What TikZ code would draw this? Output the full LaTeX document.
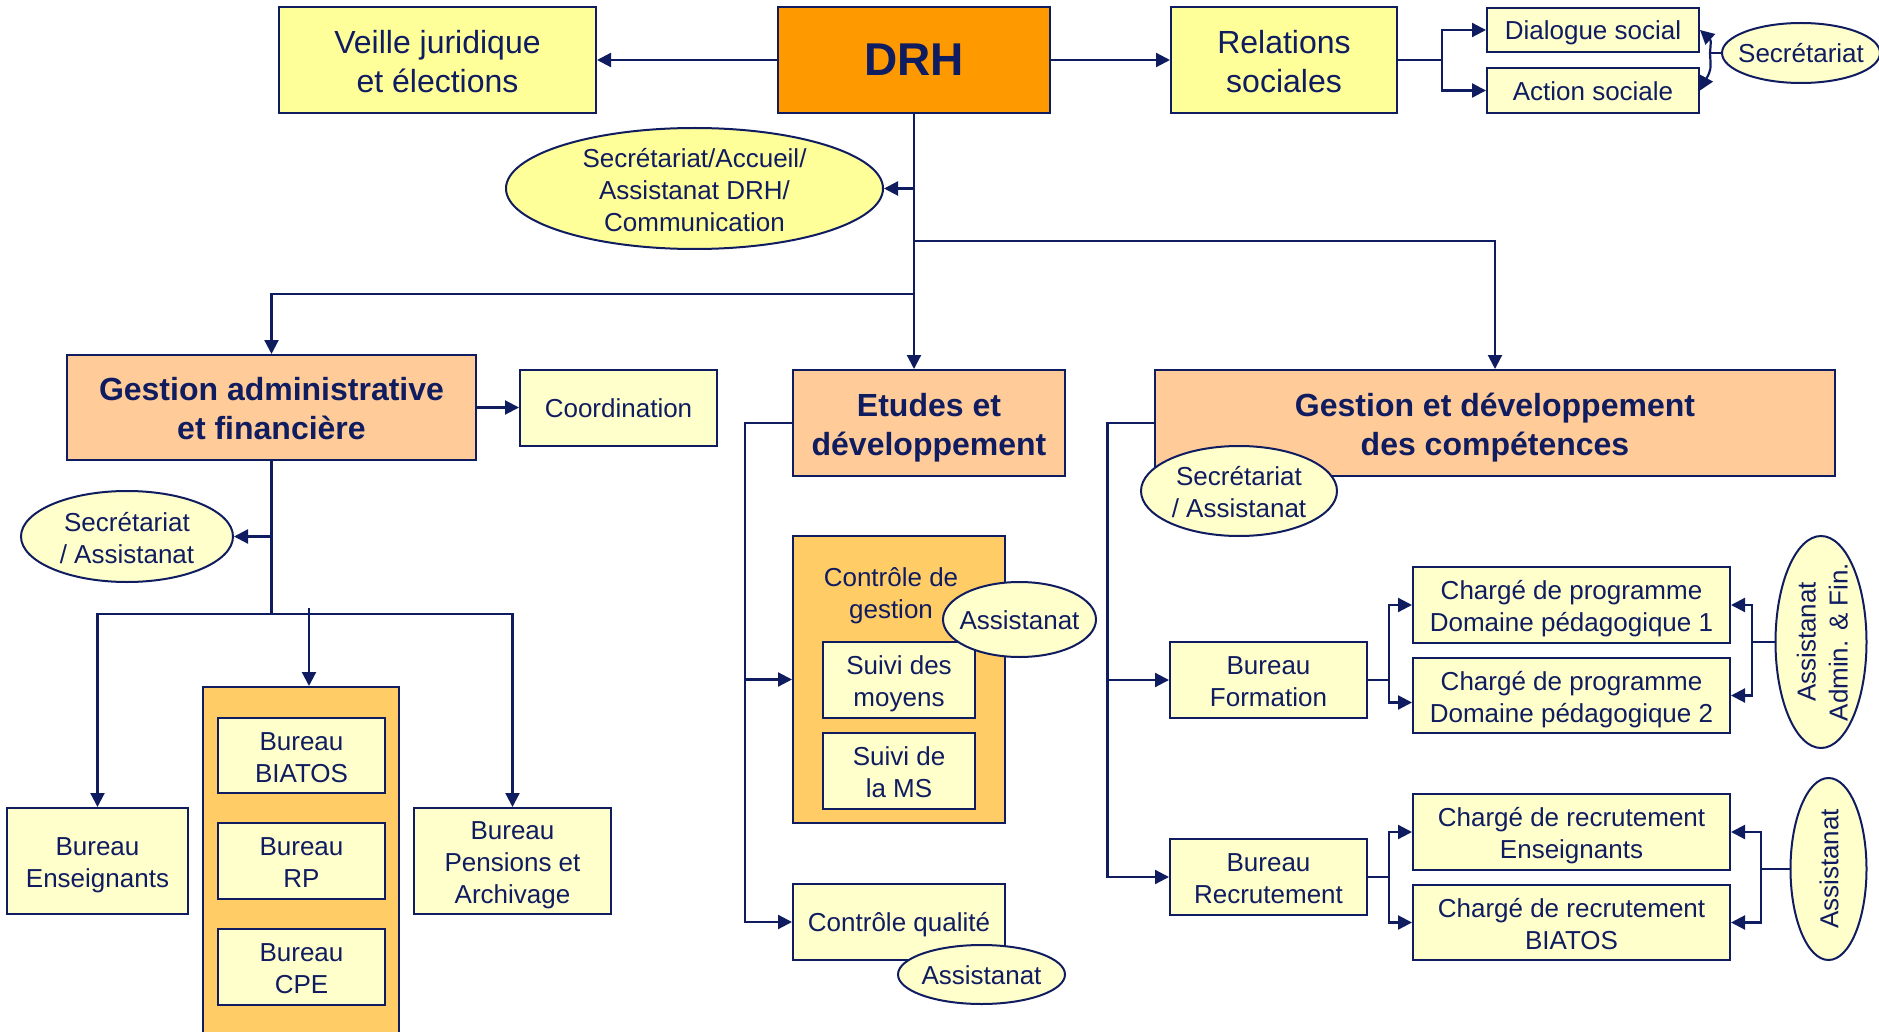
\documentclass[tikz,border=0pt]{standalone}
\usepackage{fontspec}
\setmainfont{Liberation Sans}
\usetikzlibrary{arrows.meta,shapes.geometric}
\definecolor{navy}{RGB}{16,28,96}
\definecolor{yA}{HTML}{FFFF99}
\definecolor{yB}{HTML}{FFFFCC}
\definecolor{peach}{HTML}{FFCC99}
\definecolor{orng}{HTML}{FF9900}
\definecolor{gold}{HTML}{FFCC66}
\begin{document}
\begin{tikzpicture}[x=0.5pt,y=-0.5pt,
 sA/.style={text height=12.6pt, text depth=2.8pt},
 sB/.style={text height=29.4pt, text depth=2.8pt},
 sC/.style={text height=45.4pt, text depth=2.8pt},
 bB/.style={text height=35.5pt, text depth=3.4pt},
 nbase/.style={draw=navy, line width=1pt, text=navy, align=center, inner sep=1pt, font=\fontsize{13}{16}\selectfont},
 boxA/.style={nbase, bB, rectangle, fill=yA, font=\fontsize{16}{19.5}\selectfont},
 boxB/.style={nbase, rectangle, fill=yB},
 head/.style={nbase, bB, rectangle, fill=peach, font=\fontsize{16}{19.5}\selectfont\bfseries},
 cont/.style={nbase, rectangle, fill=gold},
 ell/.style={nbase, ellipse, fill=yB, inner sep=0pt},
 txt/.style={text=navy, align=center, inner sep=0pt, font=\fontsize{13}{16}\selectfont},
 conn/.style={draw=navy, line width=1.1pt},
 arr/.style={conn, -{Triangle[length=7pt,width=7pt]}}
]
\fill[white] (0,0) rectangle (1879,1032);
\useasboundingbox (0,0) rectangle (1879,1032);

% top row
\node[nbase, rectangle, fill=orng, font=\fontsize{23}{27}\selectfont\bfseries, minimum width=136pt, minimum height=53pt] (drh) at (914,60) {DRH};
\node[boxA, minimum width=158.5pt, minimum height=53pt] (veille) at (437.5,60) {Veille juridique\\et élections};
\node[boxA, minimum width=113pt, minimum height=53pt] (rel) at (1284,60) {Relations\\sociales};
\node[boxB, sA, minimum width=106pt, minimum height=22pt] (dia) at (1593,30) {Dialogue social};
\node[boxB, sA, minimum width=106pt, minimum height=22.5pt] (act) at (1593,90.5) {Action sociale};

% GAF column
\node[head, minimum width=204.5pt, minimum height=52.5pt] (gaf) at (271.5,407.5) {Gestion administrative\\et financière};
\node[boxB, sA, minimum width=98.5pt, minimum height=38pt] (coord) at (618.5,408) {Coordination};
\node[boxB, sB, minimum width=90.5pt, minimum height=53pt] (bens) at (97.5,861) {Bureau\\Enseignants};
\node[boxB, sC, minimum width=98.5pt, minimum height=53pt] (bpen) at (512.5,861) {Bureau\\Pensions et\\Archivage};
\node[cont, minimum width=98pt, minimum height=176.5pt] (bcont) at (301,863.5) {};
\node[boxB, sB, minimum width=83.5pt, minimum height=37.5pt] (bbia) at (301.5,755.5) {Bureau\\BIATOS};
\node[boxB, sB, minimum width=83.5pt, minimum height=38pt] (brp) at (301.5,861) {Bureau\\RP};
\node[boxB, sB, minimum width=83.5pt, minimum height=38pt] (bcpe) at (301.5,967) {Bureau\\CPE};

% Etudes column
\node[head, minimum width=136pt, minimum height=53pt] (etu) at (929,423) {Etudes et\\développement};
\node[cont, minimum width=106pt, minimum height=143.5pt] (cdg) at (899,679.5) {};
\node[txt, sB] (cdgt) at (891,592) {Contrôle de\\gestion};
\node[boxB, sB, minimum width=76pt, minimum height=38pt] (sm) at (899,680) {Suivi des\\moyens};
\node[boxB, sB, minimum width=76pt, minimum height=38pt] (sms) at (899,771) {Suivi de\\la MS};
\node[boxB, sA, minimum width=106pt, minimum height=38pt] (cq) at (899,922) {Contrôle qualité};

% GDC column
\node[head, minimum width=340pt, minimum height=53pt] (gdc) at (1495,423) {Gestion et développement\\des compétences};
\node[boxB, sB, minimum width=98.5pt, minimum height=38pt] (bfor) at (1268.5,680) {Bureau\\Formation};
\node[boxB, sB, minimum width=98.5pt, minimum height=38pt] (brec) at (1268.5,877) {Bureau\\Recrutement};
\node[boxB, sB, minimum width=158.5pt, minimum height=38pt] (p1) at (1571.5,605) {Chargé de programme\\Domaine pédagogique 1};
\node[boxB, sB, minimum width=158.5pt, minimum height=37.5pt] (p2) at (1571.5,695.5) {Chargé de programme\\Domaine pédagogique 2};
\node[boxB, sB, minimum width=158.5pt, minimum height=38pt] (re) at (1571.5,832) {Chargé de recrutement\\Enseignants};
\node[boxB, sB, minimum width=158.5pt, minimum height=37.5pt] (rb) at (1571.5,922.5) {Chargé de recrutement\\BIATOS};

% connectors
\draw[arr] (drh.west) -- (veille.east);
\draw[arr] (drh.east) -- (rel.west);
\draw[arr] (drh.south) -- (drh.south |- etu.north);
\coordinate (j1) at (914,241);
\coordinate (j2) at (914,294);
\draw[arr] (j1) -| (gdc.north);
\draw[arr] (j2) -| (gaf.north);
\coordinate (rj) at (1442,60);
\draw[conn] (rel.east) -- (rj);
\draw[arr] (rj) |- (dia.west);
\draw[arr] (rj) |- (act.west);

\draw[arr] (gaf.east) -- (gaf.east -| coord.west);
\coordinate (gj) at (271.5,614);
\draw[conn] (gaf.south) -- (gj);
\draw[arr] (gj) -| (bens.north);
\draw[arr] (gj) -| (bpen.north);
\coordinate (mj) at (309,608);
\draw[arr] (mj) -- (mj |- bcont.north);

\coordinate (ej) at (745,423);
\draw[arr] (etu.west) -- (ej) |- (cq.west);
\draw[arr] (ej |- cdg.west) -- (cdg.west);

\coordinate (gdj) at (1107.5,423);
\draw[arr] (gdc.west) -- (gdj) |- (brec.west);
\draw[arr] (gdj |- bfor.west) -- (bfor.west);
\coordinate (fj) at (1389,680);
\draw[conn] (bfor.east) -- (fj);
\draw[arr] (fj) |- (p1.west);
\draw[arr] (fj) |- ([yshift=-3.5pt]p2.west);
\coordinate (rcj) at (1389,877);
\draw[conn] (brec.east) -- (rcj);
\draw[arr] (rcj) |- (re.west);
\draw[arr] (rcj) |- (rb.west);

% ellipses
\node[ell, minimum width=79pt, minimum height=30pt, label={[txt,sA]center:Secrétariat}] (secr) at (1801,53) {};
\node[ell, fill=yA, minimum width=188.5pt, minimum height=60.5pt, label={[txt,sC]center:Secrétariat/Accueil/\\Assistanat DRH/\\Communication}] (secd) at (694.5,188.5) {};
\node[ell, minimum width=106pt, minimum height=45.5pt, label={[txt,sB]center:Secrétariat\\/ Assistanat}] (gsec) at (127,536.5) {};
\node[ell, minimum width=76.5pt, minimum height=37.5pt, label={[txt,sA]center:Assistanat}] (cas) at (1019.5,619.5) {};
\node[ell, minimum width=83.5pt, minimum height=29.5pt, label={[txt,sA]center:Assistanat}] (cqa) at (981.5,974.5) {};
\node[ell, minimum width=98pt, minimum height=45pt, label={[txt,sB]center:Secrétariat\\/ Assistanat}] (gdsec) at (1239,491) {};
\node[ell, minimum width=45.5pt, minimum height=106pt, label={[txt,sB,rotate=90]center:Assistanat\\Admin. \& Fin.}] (aaf) at (1821,642) {};
\node[ell, minimum width=38pt, minimum height=91pt, label={[txt,sA,rotate=90]center:Assistanat}] (as3) at (1828.5,869) {};

\draw[arr] (drh.south |- secd.east) -- (secd.east);
\draw[arr] (gaf.south |- gsec.east) -- (gsec.east);
\coordinate (sj) at (1710,53);
\draw[conn] (secr.west) -- (sj);
\draw[arr] (sj) .. controls (1711,40) .. (dia.east);
\draw[arr] (sj) .. controls (1711,70) .. (act.east);
\coordinate (aj) at (1752,642);
\draw[conn] (aaf.west) -- (aj);
\draw[arr] (aj) |- (p1.east);
\draw[arr] (aj) |- (p2.east);
\coordinate (a3j) at (1761,869);
\draw[conn] (as3.west) -- (a3j);
\draw[arr] (a3j) |- (re.east);
\draw[arr] (a3j) |- (rb.east);
\end{tikzpicture}
\end{document}
